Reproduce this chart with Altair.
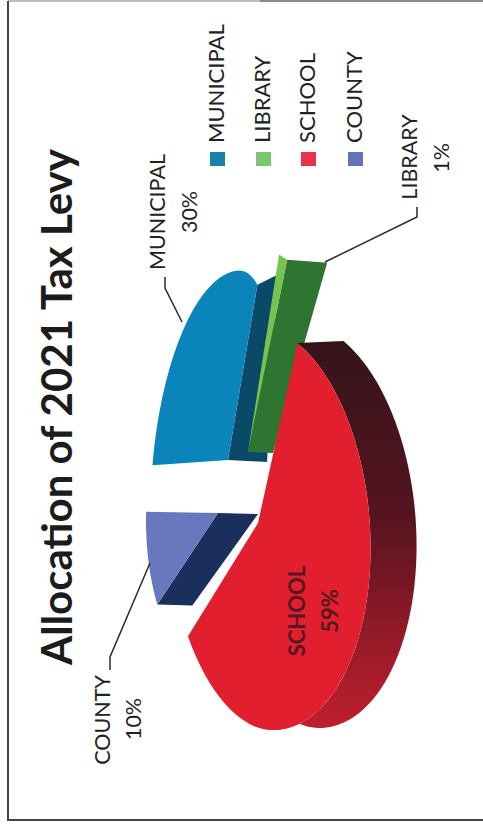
import math

import altair as alt
import pandas as pd

# Tax levy shares, in slice order round the pie
categories = ["SCHOOL", "COUNTY", "MUNICIPAL", "LIBRARY"]
shares = [59, 10, 30, 1]
legend_order = ["MUNICIPAL", "LIBRARY", "SCHOOL", "COUNTY"]
title_text = "Allocation of 2021 Tax Levy"

W, H = 483, 824
START_ANGLE = -65.0

# Ellipse of each exploded slice: centre, left/right half-width, half-height, skew
SLICE_GEOMETRY = {
    "SCHOOL": dict(cx=262, cy=527, rl=95, rr=108, ry=203, skew=0.055, tip=(258, 523)),
    "COUNTY": dict(cx=218, cy=521, rl=72, rr=72, ry=155, skew=0.0, tip=(218, 513)),
    "MUNICIPAL": dict(cx=227.6, cy=477.6, rl=76, rr=50, ry=207, skew=-0.06, tip=(228, 460)),
    "LIBRARY": dict(cx=228, cy=452, rl=140, rr=140, ry=212, skew=0.0, tip=(248, 452)),
}
FACE_COLORS = {"SCHOOL": "#e11f2f", "COUNTY": "#6878bf", "MUNICIPAL": "#0b84bb", "LIBRARY": "#76c34f"}
SIDE_COLORS = {"COUNTY": "#1a2f5c", "MUNICIPAL": "#0a4a68", "LIBRARY": "#2d7530"}
# Extrusion of each slice's cut wall: offset at the rim, offset at the tip
SIDE_DEPTH = {"COUNTY": ((35, 1), (40, 1)), "MUNICIPAL": ((20, -10), (39, 2)), "LIBRARY": ((40, 3), (25, 1))}
SCHOOL_DEPTH = (46, -2)
SWATCH_COLORS = {"MUNICIPAL": "#1a80ad", "LIBRARY": "#7cc46e", "SCHOOL": "#e8344a", "COUNTY": "#6573bb"}
LEGEND_X = {"MUNICIPAL": 224, "LIBRARY": 270, "SCHOOL": 315, "COUNTY": 362}
SWATCH_SIZE = 15


def rim(name, deg):
    g = SLICE_GEOMETRY[name]
    t = math.radians(deg)
    dx = math.cos(t) * (g["rr"] if math.cos(t) > 0 else g["rl"])
    dy = math.sin(t) * g["ry"]
    return (g["cx"] + dx + g["skew"] * dy, g["cy"] + dy)


def sweep(name, a, b, n=60):
    return [rim(name, a + (b - a) * i / n) for i in range(n + 1)]


# Angular span of each slice, from its share of the levy
spans = {}
angle = START_ANGLE
for name, share in zip(categories, shares):
    spans[name] = (angle, angle + share * 3.6)
    angle += share * 3.6

x_scale = alt.Scale(domain=[0, W], range=[0, W], nice=False, zero=False)
y_scale = alt.Scale(domain=[0, H], range=[0, H], nice=False, zero=False)


def polygon(points, fill):
    closed = list(points) + [points[0]]
    df = pd.DataFrame({"px": [p[0] for p in closed], "py": [p[1] for p in closed], "i": range(len(closed))})
    return alt.Chart(df).mark_line(fill=fill, stroke=None, strokeWidth=0).encode(
        x=alt.X("px:Q", scale=x_scale, axis=None),
        y=alt.Y("py:Q", scale=y_scale, axis=None),
        order="i:Q",
    )


def leader(points, color="#2b2b2b", width=1.5):
    df = pd.DataFrame({"px": [p[0] for p in points], "py": [p[1] for p in points], "i": range(len(points))})
    return alt.Chart(df).mark_line(color=color, strokeWidth=width).encode(
        x=alt.X("px:Q", scale=x_scale, axis=None),
        y=alt.Y("py:Q", scale=y_scale, axis=None),
        order="i:Q",
    )


def label(text, px, py, size, font="Lato", weight="normal", color="#222222", align="center"):
    df = pd.DataFrame({"px": [px], "py": [py], "t": [text]})
    return alt.Chart(df).mark_text(
        angle=270, align=align, baseline="alphabetic", font=font, fontSize=size,
        fontWeight=weight, color=color,
    ).encode(
        x=alt.X("px:Q", scale=x_scale, axis=None),
        y=alt.Y("py:Q", scale=y_scale, axis=None),
        text="t:N",
    )


def offset(p, d):
    return (p[0] + d[0], p[1] + d[1])


layers = []

# Page frame: top rule fading to the left, dark left and bottom rules
layers.append(leader([(8, 1), (260, 1)], color="#a8a8a8", width=1.5))
layers.append(leader([(260, 1), (W, 1)], color="#666666", width=1.5))
layers.append(leader([(8, 1), (8, 820), (W, 820)], color="#444444", width=2))

# Municipal slice: cut wall, then top face
a, b = spans["MUNICIPAL"]
g = SLICE_GEOMETRY["MUNICIPAL"]
rim_d, tip_d = SIDE_DEPTH["MUNICIPAL"]
end = rim("MUNICIPAL", b)
layers.append(polygon([end, offset(end, rim_d), offset(g["tip"], tip_d), g["tip"]], SIDE_COLORS["MUNICIPAL"]))
layers.append(polygon([g["tip"]] + sweep("MUNICIPAL", a, b), FACE_COLORS["MUNICIPAL"]))

# Library slice: the thin top face with its wide cut wall
a, b = spans["LIBRARY"]
g = SLICE_GEOMETRY["LIBRARY"]
rim_d, tip_d = SIDE_DEPTH["LIBRARY"]
end = rim("LIBRARY", b)
layers.append(polygon([end, offset(end, rim_d), offset(g["tip"], tip_d), g["tip"]], SIDE_COLORS["LIBRARY"]))
layers.append(polygon([g["tip"]] + sweep("LIBRARY", a, b), FACE_COLORS["LIBRARY"]))

# County slice
a, b = spans["COUNTY"]
g = SLICE_GEOMETRY["COUNTY"]
rim_d, tip_d = SIDE_DEPTH["COUNTY"]
start = rim("COUNTY", a)
layers.append(polygon([start, offset(start, rim_d), offset(g["tip"], tip_d), g["tip"]], SIDE_COLORS["COUNTY"]))
layers.append(polygon([g["tip"]] + sweep("COUNTY", a, b), FACE_COLORS["COUNTY"]))

# School slice: shaded outer wall below the top face
a, b = spans["SCHOOL"]
g = SLICE_GEOMETRY["SCHOOL"]
wall_rim = sweep("SCHOOL", a, 105)
wall = wall_rim + [offset(p, SCHOOL_DEPTH) for p in reversed(wall_rim)]
side_gradient = alt.Gradient(
    gradient="linear", x1=0, y1=0, x2=0, y2=1,
    stops=[
        alt.GradientStop(offset=0, color="#35141a"),
        alt.GradientStop(offset=0.45, color="#551420"),
        alt.GradientStop(offset=0.8, color="#9c1b28"),
        alt.GradientStop(offset=1, color="#c01f2d"),
    ],
)
layers.append(polygon(wall, side_gradient))
layers.append(polygon([g["tip"]] + sweep("SCHOOL", a, b), FACE_COLORS["SCHOOL"]))

# Leader lines
layers.append(leader([(165, 277), (165, 288), (182, 322)]))
layers.append(leader([(417, 207), (417, 217), (325, 262)]))
layers.append(leader([(110, 670), (110, 657), (150, 563)]))

# Callouts
label_size = 21.5
layers.append(label("MUNICIPAL", 165, 212, label_size))
layers.append(label(f"{shares[2]}%", 197, 212, label_size))
layers.append(label("LIBRARY", 417, 157, label_size))
layers.append(label(f"{shares[3]}%", 449, 158, label_size))
layers.append(label("COUNTY", 110, 720, label_size))
layers.append(label(f"{shares[1]}%", 141, 719, label_size))
layers.append(label("SCHOOL", 305, 611, 22, weight="bold", color="#571822"))
layers.append(label(f"{shares[0]}%", 338, 611, 22, weight="bold", color="#571822"))

# Legend
for name in legend_order:
    right = LEGEND_X[name]
    swatch = [(right - SWATCH_SIZE + 1, 152), (right + 1, 152), (right + 1, 166), (right - SWATCH_SIZE + 1, 166)]
    layers.append(polygon(swatch, SWATCH_COLORS[name]))
    layers.append(label(name, right, 143, 22, align="left"))

# Title
layers.append(label(title_text, 72, 407, 42, weight="bold", color="#1c1c1c"))

chart = alt.layer(*layers).properties(
    width=W, height=H, padding=0, autosize=alt.AutoSizeParams(type="none"),
    background="#ffffff",
).configure_view(stroke=None)

chart.save("out.html", embed_options={"renderer": "svg", "actions": False})
